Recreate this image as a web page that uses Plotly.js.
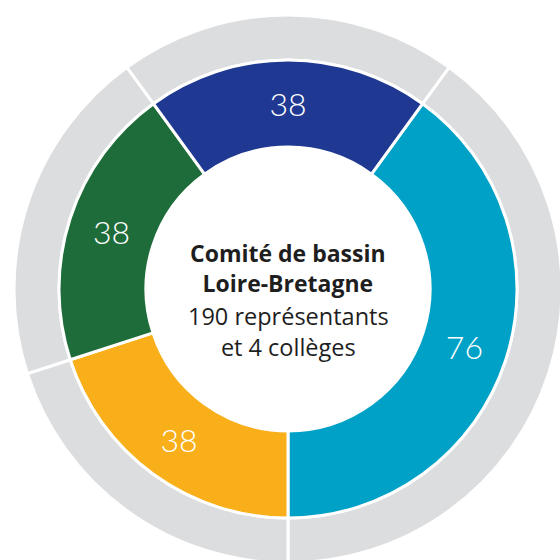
<!DOCTYPE html>
<html>
<head>
<meta charset="utf-8">
<script src="https://cdn.plot.ly/plotly-3.0.1.min.js"></script>
<style>
html,body{margin:0;padding:0;background:#fff;overflow:hidden;width:560px;height:560px;}
#chart{position:absolute;left:14px;top:15px;width:548px;height:548px;}
</style>
</head>
<body>
<div id="chart"></div>
<script>
// Data
var colleges = ["Collège A", "Collège B", "Collège C", "Collège D"];
var members = [76, 38, 38, 38];
var sliceColors = ["#00a1c6", "#f8af1a", "#1e6c39", "#1f3891"];
var centerTitle = ["Comité de bassin", "Loire-Bretagne"];
var centerSub = ["190 représentants", "et 4 collèges"];

var outerFrac = 229 / 274;
var d0 = 0.5 - outerFrac / 2, d1 = 0.5 + outerFrac / 2;

var greyRing = {
  type: "pie",
  labels: colleges,
  values: members,
  sort: false,
  direction: "clockwise",
  rotation: 36,
  hole: outerFrac,
  marker: {colors: ["#dcdddf", "#dcdddf", "#dcdddf", "#dcdddf"], line: {color: "#ffffff", width: 3}},
  textinfo: "none",
  hoverinfo: "skip",
  domain: {x: [0, 1], y: [0, 1]}
};

var donut = {
  type: "pie",
  labels: colleges,
  values: members,
  sort: false,
  direction: "clockwise",
  rotation: 36,
  hole: 142 / 229,
  marker: {colors: sliceColors, line: {color: "#ffffff", width: 3}},
  textinfo: "value",
  textposition: "inside",
  insidetextorientation: "horizontal",
  textfont: {family: "Lato, 'Open Sans', sans-serif", size: 32, color: "#ffffff", weight: 300},
  hoverinfo: "skip",
  domain: {x: [d0, d1], y: [d0, d1]}
};

var layout = {
  width: 548,
  height: 548,
  margin: {l: 0, r: 0, t: 0, b: 0},
  paper_bgcolor: "#ffffff",
  showlegend: false,
  annotations: [
    {
      text: "<b>" + centerTitle.join("<br>") + "</b>",
      x: 0.5, y: 0.539, xref: "paper", yref: "paper",
      showarrow: false, align: "center",
      font: {family: "'Open Sans', sans-serif", size: 23, color: "#1e1e1e"}
    },
    {
      text: centerSub.join("<br>"),
      x: 0.5, y: 0.4225, xref: "paper", yref: "paper",
      showarrow: false, align: "center",
      font: {family: "'Open Sans', sans-serif", size: 23.5, color: "#1e1e1e"}
    }
  ]
};

Plotly.newPlot("chart", [greyRing, donut], layout, {displayModeBar: false, staticPlot: true});
</script>
</body>
</html>
